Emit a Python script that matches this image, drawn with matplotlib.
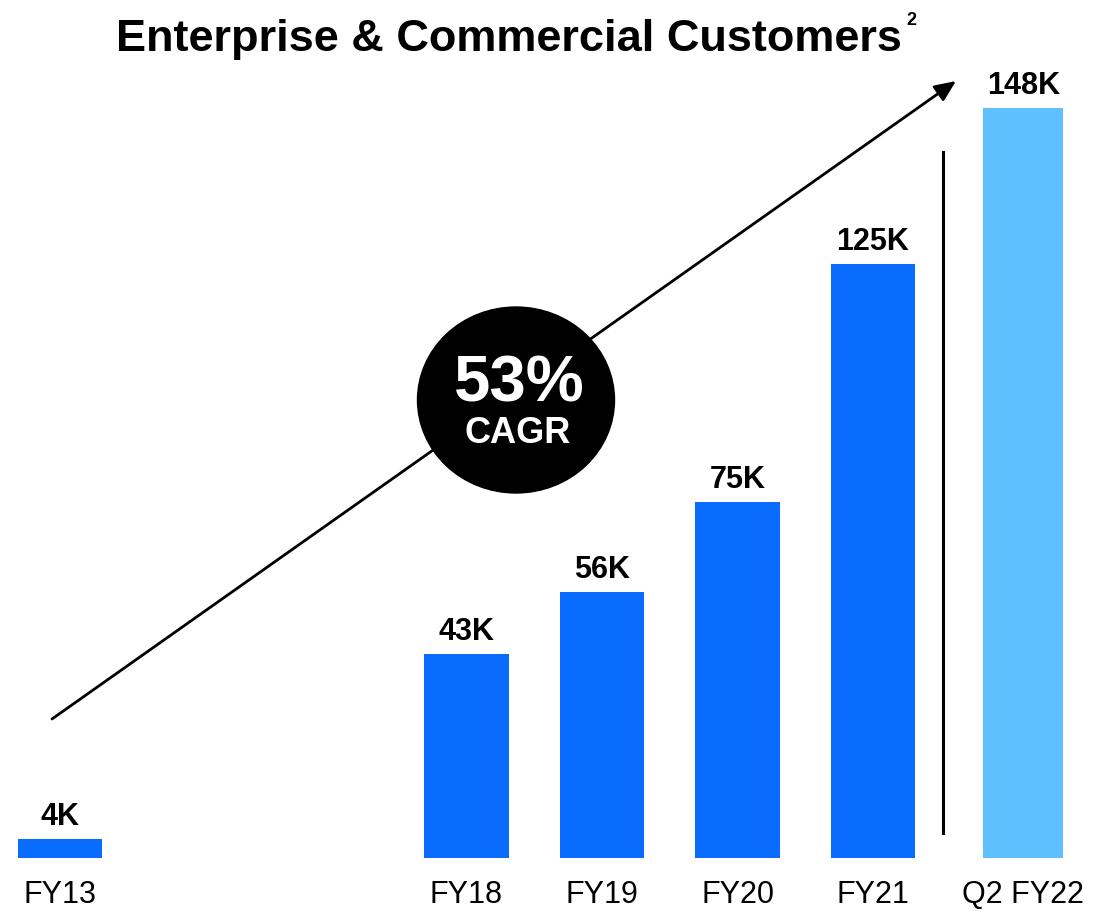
import matplotlib
matplotlib.use("Agg")
import matplotlib.pyplot as plt
from matplotlib.patches import Ellipse

plt.rcParams['font.family'] = ['Liberation Sans', 'DejaVu Sans']

# ---- data ----
categories = ["FY13", "FY18", "FY19", "FY20", "FY21"]
values = [4, 43, 56, 75, 125]
value_labels = ["4K", "43K", "56K", "75K", "125K"]
latest_category = "Q2 FY22"
latest_value = 148
latest_label = "148K"
title = "Enterprise & Commercial Customers"
cagr_text = "53%"
cagr_sub = "CAGR"

DARK_BLUE = "#0A6BFF"
LIGHT_BLUE = "#5FC0FF"

W, H = 1117, 913
fig = plt.figure(figsize=(W / 100, H / 100), dpi=100)

# geometry (pixels)
base_px = 858
spacing_px = 135.5
first_center_px = 60
ax_h_px = 760

x_pos = [0, 3, 4, 5, 6]
latest_pos = 7.11
sep_pos = 6.52
bar_w = 0.62
latest_w = 0.59

xlim = (-first_center_px / spacing_px, (W - first_center_px) / spacing_px)
rect = [0, (H - base_px) / H, 1, ax_h_px / H]

ax = fig.add_axes(rect)
ax.set_xlim(*xlim)
ax.set_ylim(0, ax_h_px / 4.75)
ax.bar(x_pos, values, width=bar_w, color=DARK_BLUE)
for x, v, lab in zip(x_pos, values, value_labels):
    ax.annotate(lab, (x, v), xytext=(0, 10), textcoords="offset points",
                ha="center", va="baseline", fontsize=22, fontweight="bold")
ax.set_xticks(x_pos + [latest_pos])
ax.set_xticklabels(categories + [latest_category], fontsize=22)
ax.tick_params(axis="x", length=0, pad=16)
ax.set_yticks([])
for s in ax.spines.values():
    s.set_visible(False)
ax.axvline(sep_pos, ymin=25 / ax_h_px, ymax=(base_px - 152) / ax_h_px,
           color="black", lw=2.2)

# latest period on its own scale
ax2 = fig.add_axes(rect)
ax2.set_xlim(*xlim)
ax2.set_ylim(0, ax_h_px / 5.07)
ax2.bar([latest_pos], [latest_value], width=latest_w, color=LIGHT_BLUE)
ax2.annotate(latest_label, (latest_pos, latest_value), xytext=(0, 10),
             textcoords="offset points", ha="center", va="baseline",
             fontsize=22, fontweight="bold")
ax2.axis("off")
ax2.patch.set_alpha(0)

# overlay in pixel coordinates
ov = fig.add_axes([0, 0, 1, 1])
ov.set_xlim(0, W)
ov.set_ylim(H, 0)
ov.axis("off")
ov.patch.set_alpha(0)
ov.annotate("", xy=(956, 81), xytext=(52, 719),
            arrowprops=dict(arrowstyle="-|>,head_length=0.8,head_width=0.35",
                            color="black", lw=2,
                            mutation_scale=16, shrinkA=0, shrinkB=0))
ov.add_patch(Ellipse((516, 400), 197, 186, color="black", zorder=5))
ov.text(519, 401, cagr_text, color="white", fontsize=47, fontweight="bold",
        ha="center", va="baseline", zorder=6)
ov.text(518, 443, cagr_sub, color="white", fontsize=26, fontweight="bold",
        ha="center", va="baseline", zorder=6)
ov.text(509, 51, title, fontsize=32.5, fontweight="bold", ha="center",
        va="baseline")
ov.text(906, 25, "2", fontsize=13, fontweight="bold", ha="left",
        va="baseline")

fig.savefig("out.png", dpi=100)
